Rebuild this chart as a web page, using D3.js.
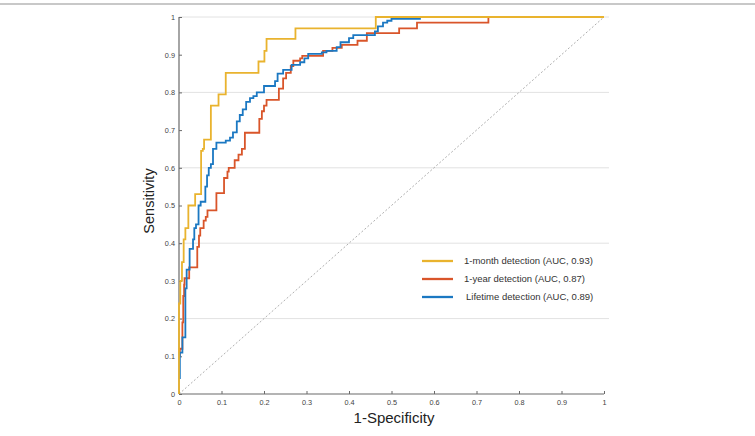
<!DOCTYPE html>
<html><head><meta charset="utf-8">
<script src="https://cdn.jsdelivr.net/npm/d3@7"></script>
<style>
html,body{margin:0;padding:0;background:#fff;}
svg{display:block;font-family:"Liberation Sans",Arial,Helvetica,sans-serif;}
</style></head>
<body><svg id="c" width="755" height="436"></svg>
<script>
// ---- data (step corner points, fpr -> tpr) ----
const monthFpr = [0, 0, 0.003, 0.007, 0.011, 0.015, 0.022, 0.038, 0.052, 0.056, 0.059, 0.075, 0.093, 0.11, 0.187, 0.201, 0.206, 0.274, 0.463, 1];
const monthTpr = [0, 0.24, 0.30, 0.35, 0.41, 0.44, 0.50, 0.53, 0.645, 0.65, 0.675, 0.765, 0.795, 0.852, 0.882, 0.91, 0.942, 0.97, 1, 1];

const yearFpr = [0.002, 0.002, 0.008, 0.010, 0.012, 0.013, 0.024, 0.043, 0.047, 0.050, 0.058, 0.063, 0.067, 0.088, 0.106, 0.114, 0.117, 0.131, 0.140, 0.148, 0.155, 0.189, 0.195, 0.200, 0.206, 0.235, 0.245, 0.252, 0.263, 0.269, 0.285, 0.290, 0.339, 0.361, 0.383, 0.420, 0.442, 0.518, 0.560, 0.728, 1];
const yearTpr = [0.10, 0.12, 0.19, 0.26, 0.29, 0.307, 0.336, 0.39, 0.42, 0.44, 0.46, 0.47, 0.487, 0.533, 0.573, 0.59, 0.60, 0.62, 0.635, 0.65, 0.693, 0.73, 0.75, 0.765, 0.78, 0.81, 0.837, 0.852, 0.87, 0.884, 0.89, 0.897, 0.91, 0.918, 0.926, 0.937, 0.957, 0.97, 0.985, 1, 1];

const lifeFpr = [0.002, 0.002, 0.008, 0.015, 0.018, 0.025, 0.033, 0.036, 0.040, 0.046, 0.051, 0.062, 0.066, 0.070, 0.075, 0.080, 0.088, 0.110, 0.120, 0.127, 0.136, 0.143, 0.150, 0.158, 0.167, 0.175, 0.183, 0.200, 0.226, 0.232, 0.245, 0.265, 0.285, 0.295, 0.304, 0.336, 0.347, 0.371, 0.380, 0.400, 0.410, 0.461, 0.468, 0.480, 0.490, 0.500, 0.569];
const lifeTpr = [0.04, 0.11, 0.15, 0.28, 0.33, 0.385, 0.41, 0.44, 0.45, 0.50, 0.51, 0.55, 0.58, 0.60, 0.61, 0.65, 0.667, 0.672, 0.68, 0.694, 0.723, 0.74, 0.755, 0.775, 0.785, 0.79, 0.80, 0.817, 0.83, 0.85, 0.86, 0.873, 0.88, 0.89, 0.902, 0.906, 0.91, 0.92, 0.933, 0.944, 0.952, 0.962, 0.975, 0.985, 0.99, 0.995, 0.995];

const seriesNames = ["1-month detection (AUC, 0.93)", "1-year detection (AUC, 0.87)", "Lifetime detection (AUC, 0.89)"];
const seriesColors = ["#E9B32E", "#D9552A", "#1B78C2"];
const xTicks = [0, 0.1, 0.2, 0.3, 0.4, 0.5, 0.6, 0.7, 0.8, 0.9, 1];
const yTicks = [0, 0.1, 0.2, 0.3, 0.4, 0.5, 0.6, 0.7, 0.8, 0.9, 1];
const gridTicks = [0.2, 0.4, 0.6, 0.8, 1];

// ---- layout ----
const svg = d3.select("#c");
const L = 179, R = 604, T = 17, B = 394;
const x = d3.scaleLinear().domain([0, 1]).range([L, R]);
const y = d3.scaleLinear().domain([0, 1]).range([B, T]);

// top frame line
svg.append("line").attr("x1", 0).attr("x2", 755).attr("y1", 4).attr("y2", 4)
  .attr("stroke", "#c8c8c8").attr("stroke-width", 2);

// gridlines
svg.append("g").selectAll("line").data(gridTicks).join("line")
  .attr("x1", L).attr("x2", R + 5)
  .attr("y1", d => y(d)).attr("y2", d => y(d))
  .attr("stroke", "#e2e2e2").attr("stroke-width", 1);

// diagonal reference
svg.append("line")
  .attr("x1", x(0)).attr("y1", y(0)).attr("x2", x(1)).attr("y2", y(1))
  .attr("stroke", "#9a9a9a").attr("stroke-width", 0.8).attr("stroke-dasharray", "2,2");

// axes
const xAxis = d3.axisBottom(x).tickValues(xTicks).tickSize(-3).tickPadding(6)
  .tickFormat(d => d3.format("~g")(d));
const yAxis = d3.axisLeft(y).tickValues(yTicks).tickSize(-3).tickPadding(4)
  .tickFormat(d => d3.format("~g")(d));

const gx = svg.append("g").attr("transform", `translate(0,${B})`).call(xAxis);
const gy = svg.append("g").attr("transform", `translate(${L},0)`).call(yAxis);
[gx, gy].forEach(g => {
  g.select(".domain").attr("stroke", "#6a6a6a").attr("stroke-width", 1.2);
  g.selectAll(".tick line").attr("stroke", "#6a6a6a");
  g.selectAll(".tick text").attr("fill", "#444").attr("font-size", 7.3)
    .attr("font-family", "'Liberation Sans',Arial,sans-serif");
});
gx.select(".domain").attr("d", `M${L},0H${R}`);
gy.select(".domain").attr("d", `M0,${B}V${T}`);

// curves
const line = d3.line().x(d => x(d[0])).y(d => y(d[1])).curve(d3.curveStepAfter);
const seriesData = [
  d3.zip(yearFpr, yearTpr),
  d3.zip(lifeFpr, lifeTpr),
  d3.zip(monthFpr, monthTpr)
];
const seriesCol = [seriesColors[1], seriesColors[2], seriesColors[0]];
svg.append("g").selectAll("path").data(seriesData).join("path")
  .attr("d", line).attr("fill", "none")
  .attr("stroke", (d, i) => seriesCol[i]).attr("stroke-width", 1.8)
  .attr("stroke-linejoin", "miter");

// axis labels
svg.append("text").attr("x", 394).attr("y", 423).attr("text-anchor", "middle")
  .attr("font-size", 15).attr("fill", "#222").text("1-Specificity");
svg.append("text").attr("transform", "translate(154,201) rotate(-90)")
  .attr("text-anchor", "middle").attr("font-size", 14.5).attr("fill", "#222").text("Sensitivity");

// legend
const lg = svg.append("g");
const legY = [261, 279, 297];
const legTx = [464, 464, 466];
seriesNames.forEach((n, i) => {
  lg.append("line").attr("x1", 422).attr("x2", 453).attr("y1", legY[i]).attr("y2", legY[i])
    .attr("stroke", seriesColors[i]).attr("stroke-width", 2.3);
  lg.append("text").attr("x", legTx[i]).attr("y", legY[i] + 3.2).attr("font-size", 9.5)
    .attr("fill", "#333").text(n);
});
</script></body></html>
